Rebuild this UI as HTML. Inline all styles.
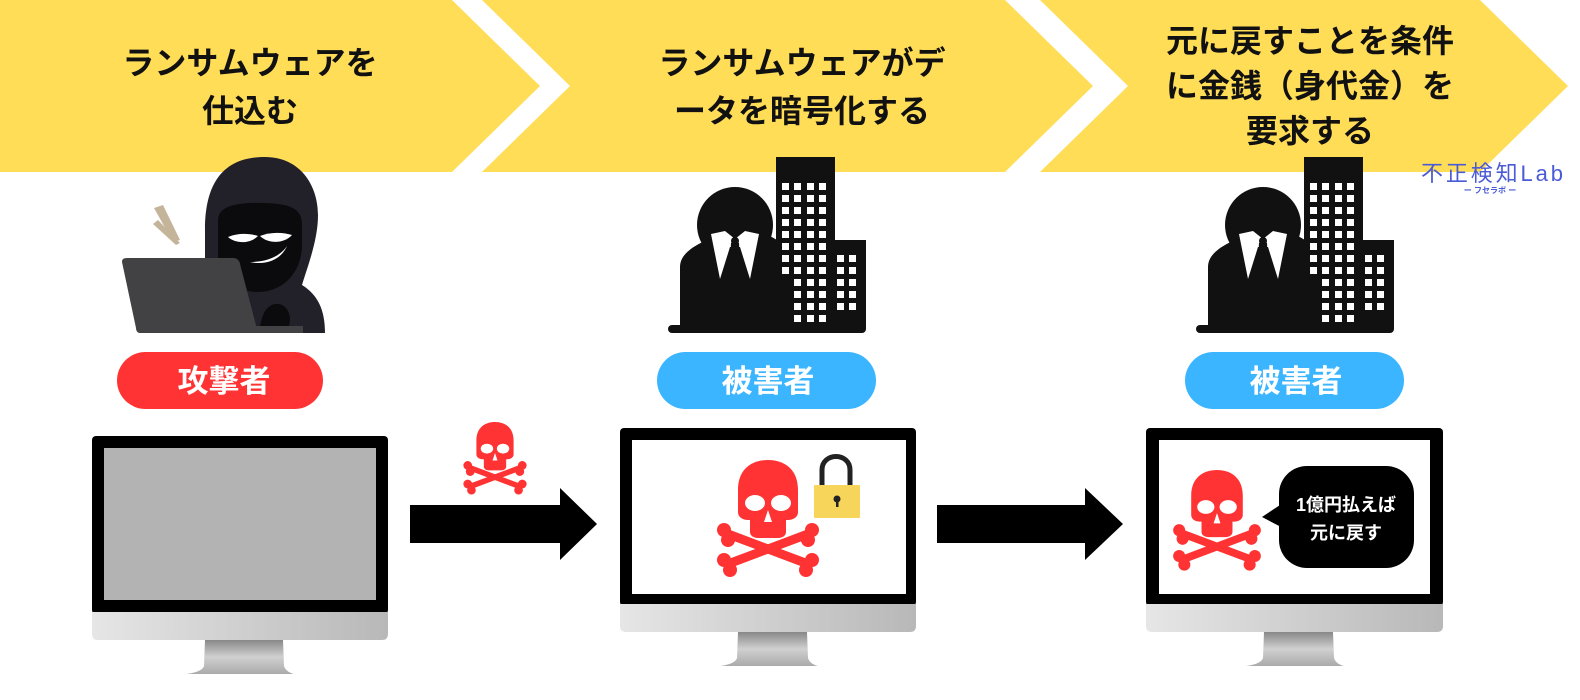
<!DOCTYPE html>
<html><head><meta charset="utf-8"><style>
html,body{margin:0;padding:0;background:#fff;}
svg{display:block}
text{font-family:"Liberation Sans","Noto Sans CJK JP",sans-serif;font-weight:bold;}
</style></head><body>
<svg width="1580" height="700" viewBox="0 0 1580 700" xmlns="http://www.w3.org/2000/svg">
<defs>
<linearGradient id="chin" x1="0" x2="1"><stop offset="0" stop-color="#e6e6e6"/><stop offset="1" stop-color="#b8b8b8"/></linearGradient>
<linearGradient id="stand" x1="0" y1="0" x2="0" y2="1"><stop offset="0" stop-color="#888"/><stop offset="0.5" stop-color="#d0d0d0"/><stop offset="1" stop-color="#aaa"/></linearGradient>
<g id="skull">
 <g fill="#ff3333">
  <path d="M20,30 C20,8 35,0 50,0 C65,0 80,8 80,30 L80,52 C80,58 74,60 70,60 L68,60 L68,72 C68,76 64,78 60,78 L40,78 C36,78 32,76 32,72 L32,60 L30,60 C26,60 20,58 20,52 Z"/>
  <line x1="10" y1="74" x2="90" y2="104" stroke="#ff3333" stroke-width="9"/>
  <line x1="10" y1="104" x2="90" y2="74" stroke="#ff3333" stroke-width="9"/>
  <circle cx="6" cy="70" r="7"/><circle cx="10" cy="80" r="7"/>
  <circle cx="6" cy="100" r="7"/><circle cx="12" cy="110" r="7"/>
  <circle cx="94" cy="70" r="7"/><circle cx="90" cy="80" r="7"/>
  <circle cx="94" cy="100" r="7"/><circle cx="88" cy="110" r="7"/>
 </g>
 <g fill="#fff">
  <ellipse cx="37" cy="43" rx="10" ry="8"/><ellipse cx="63" cy="43" rx="10" ry="8"/>
  <path d="M50,50 L54,62 L46,62 Z"/>
 </g>
</g>
<g id="biz">
 <rect x="0" y="168" width="198" height="8" rx="4" fill="#111"/>
 <rect x="108" y="0" width="59" height="172" fill="#111"/>
 <rect x="166" y="83" width="32" height="89" fill="#111"/>
 <path d="M12,172 L12,110 C12,95 30,85 60,75 L95,75 L130,95 L130,172 Z" fill="#111"/>
 <circle cx="67" cy="68" r="38" fill="#111"/>
 <path d="M43,77 L57,74 L67,82 L77,74 L91,77 L82,122 L72,90 L62,90 L52,122 Z" fill="#fff"/>
 <path d="M63,86 L71,86 L73,122 L61,122 Z" fill="#111"/>
 <circle cx="67" cy="84" r="4" fill="#111"/>
</g>
</defs>

<g fill="#ffdd57">
 <polygon points="0,0 452,0 540,86 452,172 0,172"/>
 <polygon points="482,0 1005,0 1093,86 1005,172 482,172 570,86"/>
 <polygon points="1040,0 1480,0 1568,86 1480,172 1040,172 1128,86"/>
</g>
<g fill="#111" font-size="32" text-anchor="middle">
 <text x="250" y="74">ランサムウェアを</text>
 <text x="250" y="122">仕込む</text>
 <text x="802" y="74">ランサムウェアがデ</text>
 <text x="802" y="122">ータを暗号化する</text>
 <text x="1310" y="52">元に戻すことを条件</text>
 <text x="1310" y="97">に金銭（身代金）を</text>
 <text x="1310" y="142">要求する</text>
</g>

<text x="1421" y="181" font-size="22" fill="#4a5bd6" style="font-weight:normal" textLength="142">不正検知Lab</text>
<text x="1490" y="193" font-size="8" fill="#4a5bd6" text-anchor="middle">ー フセラボ ー</text>

<g>
 <path d="M205,333 L205,230 C205,175 230,157 265,157 C300,157 318,185 318,215 C318,240 308,265 302,285 C318,295 325,310 325,333 Z" fill="#22212a"/>
 <path d="M218,220 C218,205 240,202 265,203 C290,204 302,208 302,225 L302,245 C302,270 285,292 258,292 C235,292 218,275 218,255 Z" fill="#0b0b0d"/>
 <path d="M228,237 C240,232 252,234 258,236 C250,244 236,244 228,237 Z" fill="#fff"/>
 <path d="M260,236 C270,232 282,232 292,235 C284,244 268,244 260,236 Z" fill="#fff"/>
 <path d="M250,262 C270,262 282,254 287,246 C282,258 268,266 250,262 Z" fill="#fff"/>
 <polygon points="154,208 163,205 180,240 173,242" fill="#c4b59a"/>
 <polygon points="153,224 158,220 180,243 176,245" fill="#c4b59a"/>
 <path d="M122,262 C122,258 125,258 128,258 L233,258 C238,258 240,262 240,264 L258,333 L140,333 C137,333 136,330 136,328 Z" fill="#424244"/>
 <path d="M258,333 L262,318 C266,305 275,302 282,305 C292,310 292,325 285,333 Z" fill="#0b0b0d"/>
 <rect x="255" y="326" width="48" height="7" fill="#424244"/>
</g>

<g transform="translate(668,157)"><use href="#biz"/></g>
<g transform="translate(1196,157)"><use href="#biz"/></g>
<g fill="#fff">
 <g id="wins">
  <g transform="translate(782,183)">
   <rect x="0" y="0" width="7" height="7"/><rect x="12" y="0" width="7" height="7"/><rect x="25" y="0" width="7" height="7"/><rect x="37" y="0" width="7" height="7"/>
   <rect x="0" y="12" width="7" height="7"/><rect x="12" y="12" width="7" height="7"/><rect x="25" y="12" width="7" height="7"/><rect x="37" y="12" width="7" height="7"/>
   <rect x="0" y="24" width="7" height="7"/><rect x="12" y="24" width="7" height="7"/><rect x="25" y="24" width="7" height="7"/><rect x="37" y="24" width="7" height="7"/>
   <rect x="0" y="36" width="7" height="7"/><rect x="12" y="36" width="7" height="7"/><rect x="25" y="36" width="7" height="7"/><rect x="37" y="36" width="7" height="7"/>
   <rect x="0" y="48" width="7" height="7"/><rect x="12" y="48" width="7" height="7"/><rect x="25" y="48" width="7" height="7"/><rect x="37" y="48" width="7" height="7"/>
   <rect x="0" y="60" width="7" height="7"/><rect x="12" y="60" width="7" height="7"/><rect x="25" y="60" width="7" height="7"/><rect x="37" y="60" width="7" height="7"/>
   <rect x="0" y="72" width="7" height="7"/><rect x="12" y="72" width="7" height="7"/><rect x="25" y="72" width="7" height="7"/><rect x="37" y="72" width="7" height="7"/>
   <rect x="0" y="84" width="7" height="7"/><rect x="12" y="84" width="7" height="7"/><rect x="25" y="84" width="7" height="7"/><rect x="37" y="84" width="7" height="7"/>
   <rect x="12" y="96" width="7" height="7"/><rect x="25" y="96" width="7" height="7"/><rect x="37" y="96" width="7" height="7"/>
   <rect x="12" y="108" width="7" height="7"/><rect x="25" y="108" width="7" height="7"/><rect x="37" y="108" width="7" height="7"/>
   <rect x="12" y="120" width="7" height="7"/><rect x="25" y="120" width="7" height="7"/><rect x="37" y="120" width="7" height="7"/>
   <rect x="12" y="132" width="7" height="7"/><rect x="25" y="132" width="7" height="7"/><rect x="37" y="132" width="7" height="7"/>
   <rect x="55" y="72" width="7" height="7"/><rect x="67" y="72" width="7" height="7"/>
   <rect x="55" y="84" width="7" height="7"/><rect x="67" y="84" width="7" height="7"/>
   <rect x="55" y="96" width="7" height="7"/><rect x="67" y="96" width="7" height="7"/>
   <rect x="55" y="108" width="7" height="7"/><rect x="67" y="108" width="7" height="7"/>
   <rect x="55" y="120" width="7" height="7"/><rect x="67" y="120" width="7" height="7"/>
  </g>
 </g>
 <use href="#wins" transform="translate(528,0)"/>
</g>

<rect x="117" y="352" width="206" height="57" rx="28.5" fill="#ff3333"/>
<rect x="657" y="352" width="219" height="57" rx="28.5" fill="#3bb5ff"/>
<rect x="1185" y="352" width="219" height="57" rx="28.5" fill="#3bb5ff"/>
<g fill="#fff" font-size="31" text-anchor="middle">
 <text x="224" y="392">攻撃者</text>
 <text x="768" y="392">被害者</text>
 <text x="1296" y="392">被害者</text>
</g>

<g transform="translate(92,436)">
 <rect x="0" y="0" width="296" height="178" rx="4" fill="#000"/>
 <rect x="12" y="12" width="272" height="152" fill="#b3b3b3"/>
 <path d="M0,176 L296,176 L296,198 Q296,204 290,204 L6,204 Q0,204 0,198 Z" fill="url(#chin)"/>
 <path d="M113,204 L191,204 L192,230 Q194,236 202,238 L94,238 Q110,236 112,230 Z" fill="url(#stand)"/>
</g>
<g transform="translate(620,428)">
 <rect x="0" y="0" width="296" height="178" rx="4" fill="#000"/>
 <rect x="12" y="12" width="274" height="154" fill="#fff"/>
 <path d="M0,176 L296,176 L296,198 Q296,204 290,204 L6,204 Q0,204 0,198 Z" fill="url(#chin)"/>
 <path d="M118,204 L187,204 L188,230 Q190,236 198,238 L100,238 Q115,236 117,230 Z" fill="url(#stand)"/>
</g>
<g transform="translate(1146,428)">
 <rect x="0" y="0" width="297" height="178" rx="4" fill="#000"/>
 <rect x="13" y="12" width="271" height="154" fill="#fff"/>
 <path d="M0,176 L297,176 L297,198 Q297,204 291,204 L6,204 Q0,204 0,198 Z" fill="url(#chin)"/>
 <path d="M118,204 L187,204 L188,230 Q190,236 198,238 L100,238 Q115,236 117,230 Z" fill="url(#stand)"/>
</g>

<polygon points="410,505 560,505 560,488 597,524 560,560 560,543 410,543" fill="#000"/>
<polygon points="937,505 1085,505 1085,488 1123,524 1085,560 1085,543 937,543" fill="#000"/>

<use href="#skull" transform="translate(464,422) scale(0.62)"/>
<use href="#skull" transform="translate(718,460) scale(1.0)"/>
<use href="#skull" transform="translate(1174,470) scale(0.86)"/>

<path d="M822,486 L822,470 C822,452 850,452 850,470 L850,486" fill="none" stroke="#222" stroke-width="5"/>
<rect x="814" y="485" width="46" height="33" rx="1" fill="#f7d55a"/>
<circle cx="837" cy="499" r="3.5" fill="#222"/>
<rect x="836" y="499" width="2.5" height="8" fill="#222"/>

<rect x="1279" y="466" width="135" height="102" rx="28" fill="#000"/>
<polygon points="1283,503 1262,517 1283,528" fill="#000"/>
<g fill="#fff" font-size="18" text-anchor="middle">
 <text x="1346" y="511">1億円払えば</text>
 <text x="1346" y="539">元に戻す</text>
</g>
</svg>
</body></html>
